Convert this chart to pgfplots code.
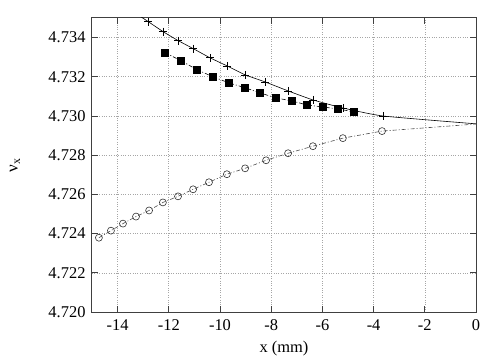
\documentclass[border=0pt]{standalone}
\usepackage{pgfplots}
\pgfplotsset{compat=1.18}
\usepackage{fontspec}
\setmainfont{Liberation Serif}
\begin{document}
\begin{tikzpicture}
\begin{axis}[
  scale only axis,
  width=384bp, height=294bp,
  xmin=-15, xmax=0, ymin=4.720, ymax=4.735,
  xtick={-14,-12,-10,-8,-6,-4,-2,0},
  xticklabels={-14,-12,-10,-8,-6,-4,-2,0},
  ytick={4.720,4.722,4.724,4.726,4.728,4.730,4.732,4.734},
  yticklabels={4.720,4.722,4.724,4.726,4.728,4.730,4.732,4.734},
  tick align=inside,
  major tick length=6bp,
  tick style={black!75, line width=0.8pt},
  axis line style={black!75, line width=1pt},
  grid=major,
  grid style={black!35, dotted, line width=0.6pt},
  ticklabel style={font=\fontsize{16.5}{18}\selectfont},
  xticklabel style={yshift=-4bp},
  yticklabel style={xshift=-3bp},
  xlabel={x (mm)},
  label style={font=\fontsize{16.5}{18}\selectfont},
  xlabel style={at={(axis description cs:0.5,-0.125)}, anchor=center},
  clip mode=individual,
]
\coordinate (O) at (rel axis cs:0,0);
\node[rotate=90, anchor=center, font=\fontsize{17}{18}\selectfont] at (axis description cs:-0.2005,0.5) {ν\textsubscript{x}};
% solid line through crosses
\addplot[black, line width=0.6pt, smooth, tension=0.3] coordinates {
(-13.28,4.73523) (-12.81,4.73482) (-12.23,4.73431) (-11.64,4.73385) (-11.05,4.73344)
(-10.39,4.73297) (-9.73,4.73256) (-9.02,4.73210) (-8.24,4.73174) (-7.34,4.73128)
(-6.37,4.73082) (-5.20,4.73041) (-3.63,4.73000) (0,4.72960)};
\addplot[only marks, mark=+, mark size=4bp, mark options={black, line width=0.6pt}] coordinates {
(-12.81,4.73482) (-12.23,4.73431) (-11.64,4.73385) (-11.05,4.73344)
(-10.39,4.73297) (-9.73,4.73256) (-9.02,4.73210) (-8.24,4.73174) (-7.34,4.73128)
(-6.37,4.73082) (-5.20,4.73041) (-3.63,4.73000)};
% squares
\addplot[black, line width=0.6pt, dash pattern=on 4bp off 2bp on 1bp off 2bp, mark=square*, mark size=3.3bp, mark options={solid, fill=black}] coordinates {
(-12.15,4.73323) (-11.52,4.73282) (-10.90,4.73236) (-10.27,4.73200) (-9.65,4.73169)
(-9.02,4.73144) (-8.44,4.73118) (-7.81,4.73092) (-7.19,4.73077) (-6.60,4.73056)
(-5.98,4.73046) (-5.39,4.73036) (-4.77,4.73021)};
% circles
\addplot[black!70, line width=0.6pt, dash pattern=on 4bp off 2bp on 1bp off 2bp] coordinates {
(-14.73,4.72379) (-14.26,4.72415) (-13.79,4.72451) (-13.28,4.72487) (-12.77,4.72518)
(-12.23,4.72559) (-11.64,4.72590) (-11.05,4.72626) (-10.43,4.72662) (-9.73,4.72703)
(-9.02,4.72733) (-8.20,4.72774) (-7.34,4.72810) (-6.37,4.72846) (-5.20,4.72887)
(-3.67,4.72923) (0,4.72959)};
\addplot[only marks, mark=o, mark size=3.5bp, mark options={black!80, line width=0.6pt}] coordinates {
(-14.73,4.72379) (-14.26,4.72415) (-13.79,4.72451) (-13.28,4.72487) (-12.77,4.72518)
(-12.23,4.72559) (-11.64,4.72590) (-11.05,4.72626) (-10.43,4.72662) (-9.73,4.72703)
(-9.02,4.72733) (-8.20,4.72774) (-7.34,4.72810) (-6.37,4.72846) (-5.20,4.72887)
(-3.67,4.72923)};
\end{axis}
\pgfresetboundingbox
\path ([shift={(-92bp,-48bp)}]O) rectangle ++(504bp,360bp);
\end{tikzpicture}
\end{document}
